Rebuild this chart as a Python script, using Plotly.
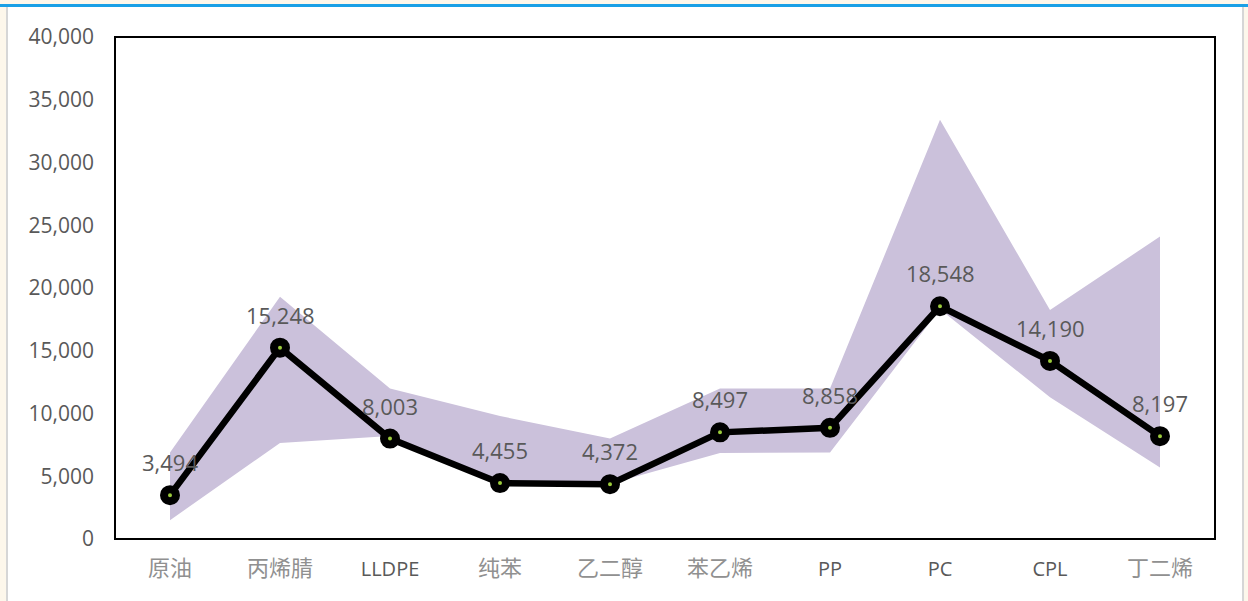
import plotly.graph_objects as go

categories = ["原油", "丙烯腈", "LLDPE", "纯苯", "乙二醇", "苯乙烯", "PP", "PC", "CPL", "丁二烯"]
current = [3494, 15248, 8003, 4455, 4372, 8497, 8858, 18548, 14190, 8197]
band_upper = [6900, 19300, 12000, 9800, 8000, 12000, 12000, 33400, 18250, 24100]
band_lower = [1500, 7650, 8200, 4500, 4400, 6850, 6900, 18300, 11300, 5700]
y_ticks = [0, 5000, 10000, 15000, 20000, 25000, 30000, 35000, 40000]

x = list(range(len(categories)))

tick_text = []
for c in categories:
    if c.isascii():
        tick_text.append('<span style="color:#595959;font-family:Open Sans;font-size:20px">' + c + '</span>')
    else:
        tick_text.append(c)

fig = go.Figure()
fig.add_trace(go.Scatter(x=x, y=band_lower, mode="lines", line=dict(width=0, color="rgba(0,0,0,0)"),
                         showlegend=False, hoverinfo="skip"))
fig.add_trace(go.Scatter(x=x, y=band_upper, mode="lines", line=dict(width=0, color="rgba(0,0,0,0)"),
                         fill="tonexty", fillcolor="#CBC1DB", showlegend=False, hoverinfo="skip"))
fig.add_trace(go.Scatter(x=x, y=current, mode="lines+markers",
                         line=dict(color="black", width=6.5),
                         marker=dict(size=12, color="#9BCB3B", line=dict(color="black", width=8)),
                         showlegend=False))

for xi, v in zip(x, current):
    fig.add_annotation(x=xi, y=v, text=f"{v:,}", showarrow=False, yshift=33, yanchor="middle",
                       font=dict(family="Open Sans", size=22, color="#595959"))

L, R, T, B = 115, 33, 37, 62
W, H = 1248, 601
pw, ph = W - L - R, H - T - B

def px_x(p):
    return (p - L) / pw

def px_y(p):
    return (H - B - p) / ph

shapes = [
    dict(type="rect", xref="paper", yref="paper", x0=0, x1=1, y0=0, y1=1,
         line=dict(color="black", width=2), layer="above"),
    dict(type="rect", xref="paper", yref="paper", x0=px_x(0), x1=px_x(W), y0=px_y(0), y1=px_y(4),
         fillcolor="#FDF7EB", line=dict(width=0)),
    dict(type="rect", xref="paper", yref="paper", x0=px_x(0), x1=px_x(W), y0=px_y(4), y1=px_y(7),
         fillcolor="#1AA0E6", line=dict(width=0)),
    dict(type="rect", xref="paper", yref="paper", x0=px_x(0), x1=px_x(6), y0=px_y(7), y1=px_y(H),
         fillcolor="#FDF7EB", line=dict(width=0)),
    dict(type="rect", xref="paper", yref="paper", x0=px_x(6), x1=px_x(8), y0=px_y(7), y1=px_y(H),
         fillcolor="#D6D6D6", line=dict(width=0)),
    dict(type="rect", xref="paper", yref="paper", x0=px_x(1242), x1=px_x(1244), y0=px_y(7), y1=px_y(H),
         fillcolor="#D6D6D6", line=dict(width=0)),
    dict(type="rect", xref="paper", yref="paper", x0=px_x(1244), x1=px_x(W), y0=px_y(7), y1=px_y(H),
         fillcolor="#FDF7EB", line=dict(width=0)),
]

fig.update_layout(
    width=W, height=H,
    margin=dict(l=L, r=R, t=T, b=B),
    paper_bgcolor="white", plot_bgcolor="white",
    shapes=shapes,
    showlegend=False,
    xaxis=dict(range=[-0.5, len(categories) - 0.5], tickmode="array", tickvals=x, ticktext=tick_text,
               showgrid=False, zeroline=False, showline=False, ticks="",
               tickfont=dict(family="Noto Sans CJK SC", size=22, color="#909090"),
               ticklabelstandoff=14),
    yaxis=dict(range=[0, 40000], tickmode="array", tickvals=y_ticks,
               ticktext=[f"{v:,}" for v in y_ticks],
               showgrid=False, zeroline=False, showline=False, ticks="",
               tickfont=dict(family="Open Sans", size=21, color="#595959"),
               ticklabelstandoff=20),
)

fig.write_html("out.html")
